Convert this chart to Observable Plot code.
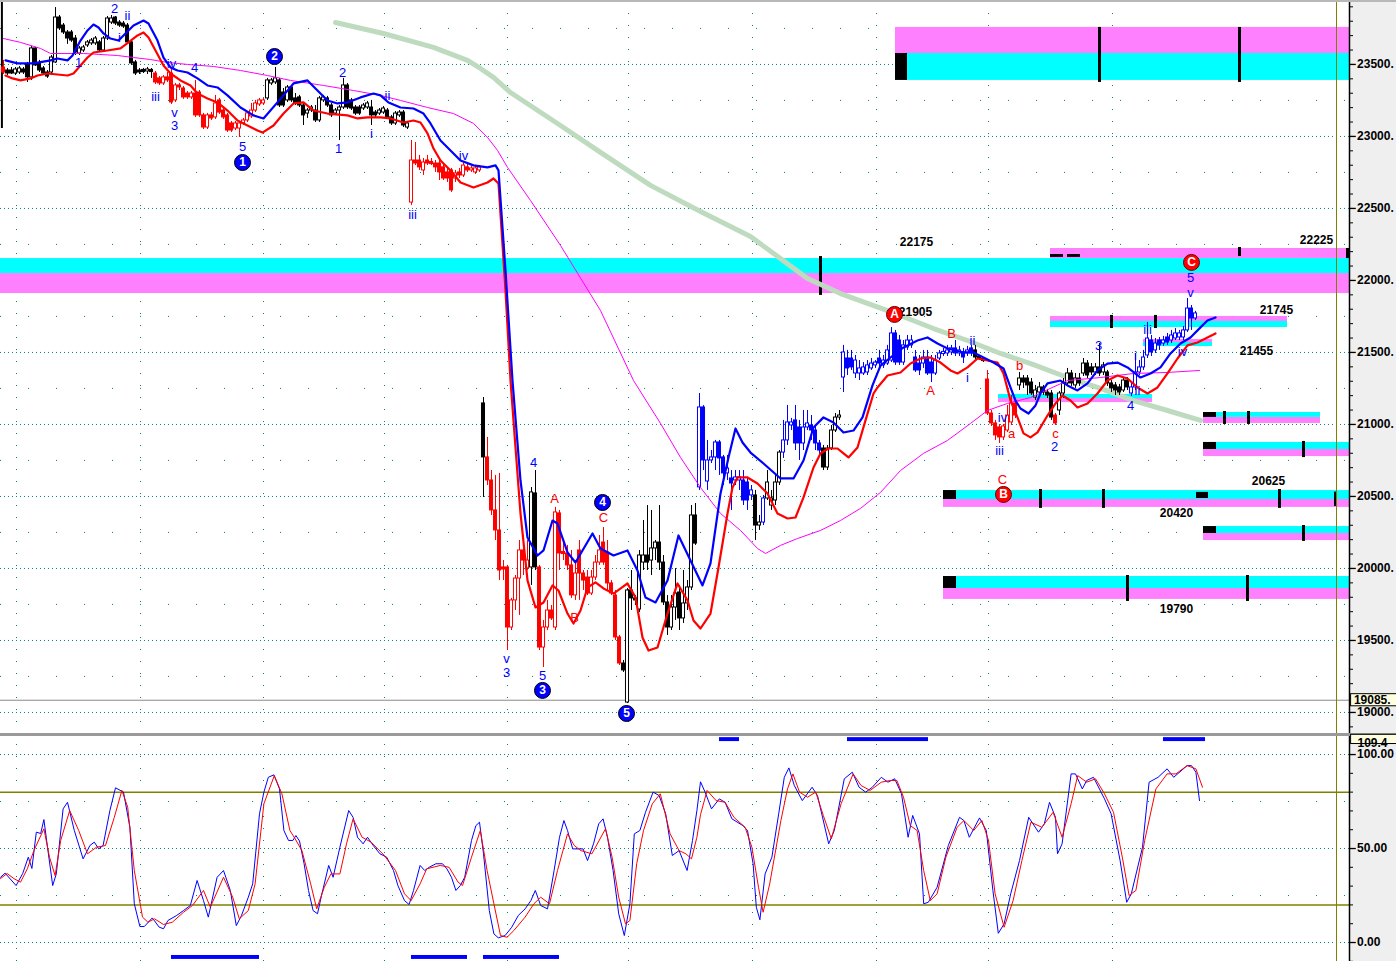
<!DOCTYPE html>
<html><head><meta charset="utf-8">
<script src="https://cdn.jsdelivr.net/npm/d3@7"></script>
<script src="https://cdn.jsdelivr.net/npm/@observablehq/plot@0.6"></script>
<style>
html,body{margin:0;padding:0;background:#fff;}
#wrap{position:relative;width:1396px;height:961px;overflow:hidden;background:linear-gradient(to right,#ffffff 0px,#ffffff 1349px,#efefef 1349px,#efefef 1396px);}
#topPane{position:absolute;left:0;top:0;}
#sep{position:absolute;left:0;top:733px;width:1396px;height:3px;background:#9a9a9a;}
#edge{position:absolute;left:0;top:0;width:1396px;height:2px;background:#b8b8b8;}
#botPane{position:absolute;left:0;top:736px;}
svg{overflow:visible;}
</style></head>
<body><div id="wrap"><div id="topPane"></div><div id="edge"></div><div id="sep"></div><div id="botPane"></div></div>
<script>
// ---------- candle data (bar index = position) ----------
const open = [
23479,23458,23458,23437,23444,23465,23500,23410,23611,23507,
23472,23444,23444,23514,23826,23770,23722,23722,23680,23576,
23597,23632,23646,23646,23653,23597,23680,23791,23826,23791,
23784,23770,23653,23514,23458,23458,23451,23458,23437,23403,
23368,23410,23437,23250,23354,23333,23298,23271,23298,23305,
23146,23062,23146,23132,23250,23180,23146,23090,23055,23055,
23090,23111,23139,23180,23222,23229,23264,23368,23375,23389,
23305,23250,23340,23264,23271,23215,23159,23180,23180,23111,
23250,23264,23215,23159,23180,23201,23354,23250,23201,23201,
23194,23201,23201,23166,23159,23166,23180,23132,23090,23146,
23166,23062,22541,22833,22833,22764,22833,22819,22812,22812,
22785,22750,22764,22708,22750,22729,22785,22764,22750,22764,
21146,20771,20611,20403,20264,20007,20007,19590,19778,19930,
20125,20000,20007,20521,20007,19451,19590,19708,19590,20382,
20111,20104,20021,19813,20125,19965,19937,19826,19937,20041,
20180,20111,19896,19812,19521,19340,19069,19847,19792,19715,
20041,20090,20055,20139,20180,20041,19764,19590,19729,19833,
19653,19757,19868,20368,20563,21118,20604,20750,20771,20875,
20771,20660,20625,20611,20611,20611,20597,20507,20507,20298,
20319,20486,20437,20472,20597,20805,20889,20993,21028,20979,
20868,20979,20993,20958,20868,20833,20701,20833,20958,21048,
21326,21458,21458,21354,21354,21354,21361,21389,21410,21458,
21410,21423,21444,21632,21583,21430,21535,21549,21465,21423,
21423,21465,21430,21354,21458,21493,21493,21500,21528,21493,
21500,21493,21528,21514,21465,21451,21312,21076,21007,20979,
20910,20958,21014,21146,21271,21319,21319,21291,21187,21222,
21257,21222,21215,21062,21097,21215,21285,21354,21271,21319,
21354,21423,21396,21361,21396,21361,21361,21285,21271,21257,
21236,21305,21215,21257,21361,21396,21479,21583,21514,21583,
21562,21604,21583,21597,21604,21604,21653,21805,21736];
const high = [
23528,23472,23479,23479,23486,23479,23514,23625,23618,23528,
23486,23458,23562,23895,23840,23784,23736,23736,23701,23625,
23632,23666,23680,23694,23666,23694,23833,23840,23833,23805,
23798,23784,23666,23528,23472,23472,23479,23472,23451,23416,
23423,23444,23472,23368,23368,23347,23312,23312,23389,23319,
23160,23160,23166,23285,23264,23194,23160,23104,23104,23104,
23125,23173,23229,23250,23264,23264,23403,23403,23479,23403,
23333,23354,23354,23298,23285,23229,23194,23215,23215,23278,
23285,23278,23229,23194,23215,23403,23368,23264,23215,23215,
23229,23243,23250,23180,23194,23208,23194,23146,23173,23180,
23180,23104,22972,22958,22868,22847,22868,22847,22833,22833,
22812,22778,22778,22764,22778,22819,22812,22792,22792,22798,
21187,20910,20680,20646,20660,20055,20021,19792,19951,20194,
20229,20194,20562,20680,20021,19639,19778,19743,20424,20403,
20194,20160,20125,20055,20194,19986,19986,19986,20090,20229,
20284,20194,19916,19847,19535,19361,19861,19986,19812,20125,
20333,20437,20403,20194,20437,20090,19812,19812,19999,19882,
19986,19916,20437,20451,21215,21131,20889,20819,20889,20889,
20785,20785,20680,20680,20680,20680,20625,20576,20542,20368,
20507,20680,20542,20646,20819,21028,21132,21042,21132,21028,
21097,21097,21062,20993,20889,20854,20854,20993,21076,21097,
21549,21514,21514,21479,21444,21430,21444,21458,21444,21514,
21479,21549,21673,21653,21618,21583,21618,21618,21514,21479,
21514,21514,21479,21479,21514,21528,21549,21549,21583,21542,
21528,21542,21549,21549,21479,21465,21375,21097,21028,21000,
21000,21132,21201,21166,21361,21340,21340,21319,21271,21291,
21271,21243,21236,21076,21229,21319,21389,21375,21354,21354,
21458,21444,21423,21423,21562,21430,21375,21305,21291,21278,
21319,21326,21285,21493,21444,21514,21708,21618,21597,21604,
21611,21632,21653,21666,21653,21680,21875,21826,21785];
const low = [
23430,23423,23430,23423,23430,23430,23375,23389,23486,23444,
23423,23403,23423,23507,23736,23708,23639,23653,23562,23562,
23583,23618,23632,23632,23583,23583,23666,23777,23770,23757,
23750,23639,23493,23423,23430,23437,23430,23403,23361,23354,
23354,23375,23222,23236,23319,23257,23257,23257,23132,23132,
23048,23048,23111,23118,23153,23118,23028,23028,23041,22993,
23076,23097,23125,23166,23208,23215,23250,23354,23361,23201,
23201,23236,23236,23215,23201,23076,23125,23166,23097,23097,
23236,23201,23132,23146,22972,23187,23187,23180,23146,23146,
23180,23187,23076,23132,23146,23153,23118,23076,23076,23132,
23062,23048,22521,22798,22764,22729,22798,22798,22750,22694,
22694,22680,22611,22680,22708,22715,22750,22750,22736,22750,
20493,20576,20368,20194,19916,19916,19430,19569,19708,19674,
19951,19986,19882,19986,19430,19312,19569,19639,19569,19986,
20055,19986,19792,19778,19778,19847,19812,19812,19916,20021,
20021,19847,19812,19500,19326,19278,19062,19708,19743,19694,
19986,19986,19951,20055,19986,19743,19535,19569,19639,19569,
19618,19708,19847,20160,20542,20680,20542,20729,20680,20646,
20576,20611,20403,20576,20542,20437,20403,20472,20194,20264,
20298,20472,20403,20437,20576,20764,20854,20958,20819,20750,
20819,20958,20889,20819,20785,20680,20680,20819,20944,21028,
21222,21340,21375,21319,21305,21340,21340,21375,21389,21389,
21389,21410,21430,21410,21410,21410,21514,21528,21361,21340,
21389,21340,21291,21340,21444,21472,21472,21479,21472,21472,
21423,21472,21472,21451,21444,21430,21062,20986,20889,20868,
20889,20944,20993,21041,21236,21250,21201,21201,21166,21201,
21201,21180,21028,20993,21062,21180,21264,21264,21250,21264,
21333,21319,21340,21340,21333,21340,21264,21222,21201,21201,
21222,21236,21194,21236,21340,21375,21458,21472,21493,21514,
21542,21549,21562,21583,21583,21583,21639,21653,21722];
const close = [
23444,23437,23437,23465,23472,23444,23410,23611,23493,23458,
23437,23416,23548,23826,23750,23722,23680,23666,23583,23611,
23618,23653,23666,23680,23597,23680,23819,23819,23784,23770,
23763,23653,23507,23437,23444,23451,23465,23451,23375,23368,
23410,23389,23236,23354,23340,23271,23271,23298,23146,23146,
23062,23146,23125,23229,23166,23132,23041,23041,23090,23090,
23111,23160,23180,23229,23250,23250,23389,23389,23403,23215,
23215,23340,23250,23229,23215,23146,23180,23201,23111,23264,
23271,23215,23146,23180,23201,23354,23201,23194,23159,23159,
23215,23229,23146,23146,23180,23194,23132,23090,23159,23166,
23076,23090,22833,22812,22785,22819,22812,22812,22785,22750,
22708,22708,22625,22743,22729,22798,22764,22778,22778,22785,
20771,20611,20403,20264,19986,19993,19590,19778,19930,20125,
20055,20055,20528,20007,19451,19590,19708,19653,20389,20104,
20104,20021,19813,19965,19965,19916,19826,19937,20041,20125,
20041,19896,19826,19521,19340,19292,19847,19792,19778,20090,
20090,20041,20139,20180,20041,19764,19590,19729,19826,19653,
19757,19868,20368,20173,21118,20750,20750,20771,20875,20764,
20660,20694,20590,20632,20632,20472,20472,20542,20298,20319,
20486,20597,20486,20597,20805,20889,21014,21014,20868,20868,
20979,21007,20958,20868,20819,20701,20833,20958,21048,21062,
21500,21389,21396,21444,21389,21396,21410,21423,21430,21423,
21444,21514,21632,21430,21430,21549,21583,21583,21375,21375,
21465,21354,21354,21444,21493,21500,21514,21528,21493,21514,
21465,21514,21493,21465,21458,21444,21076,21007,20924,20910,
20986,21062,21146,21062,21319,21291,21271,21215,21236,21257,
21222,21201,21048,21007,21215,21285,21354,21285,21319,21285,
21423,21340,21361,21396,21354,21410,21285,21250,21236,21222,
21305,21257,21257,21361,21396,21465,21597,21500,21562,21549,
21583,21569,21618,21632,21632,21653,21805,21736,21771];
// candle colour: k black, r red, b blue
const tone = [..."rkkkkkkkkk" + "kkkkkkkkkk" + "kkkkkkkkkk" + "kkkkkkkkrr" + "rrrrrrrrrr" +
  "rrrrrrrrrr" + "rrrrrrkkkk" + "kkkkkkkkkk" + "kkkkkkkkkk" + "kkkkkkkkkk" +
  "kkrrrrrrrr" + "rrrrrrrrrr" + "krrrrrrrrr" + "rrkkrrrrrr" + "rrrrrrrrrr" +
  "rrrrrkkkkk" + "kkkkkkkkkk" + "kkkkbbbbbb" + "bbbbbbbbkk" + "bkkkkbbbbb" +
  "bbbbbkkkkk" + "bbbbbbbbbb" + "bbbbbbbbbb" + "bbbbbbbbbb" + "bbbkkkrrrr" +
  "rrrrkkkkkk" + "kkkrkkkkkk" + "kkkkkkkkkk" + "kkbbbbbbbb" + "bbbbbbbbb"];

// ---------- overlay lines [bar, price] ----------
const bandUpper = [[0.5,23528],[3.5,23507],[7.5,23507],[11.75,23528],[13.5,23541],[16,23528],[17.25,23562],[19.25,23666],[21,23736],[22.5,23777],[23.75,23757],[25,23715],[26.75,23680],[28.75,23666],[30.5,23715],[32.5,23770],[35,23805],[36.25,23784],[38.5,23666],[40,23548],[41.75,23479],[43.5,23458],[46,23444],[48.5,23403],[51,23354],[53.5,23340],[56,23285],[59.25,23201],[62.5,23146],[65,23125],[70,23285],[72.5,23368],[76,23389],[78.5,23319],[81,23250],[83.5,23229],[86,23236],[89.25,23271],[92.5,23298],[94.25,23285],[96.25,23236],[99.25,23201],[102.5,23194],[105,23159],[106.75,23090],[109.25,22972],[111.75,22903],[114.25,22833],[117.5,22799],[121,22785],[123,22799],[123.75,22764],[125.5,22069],[127.25,21305],[129.25,20611],[131,20215],[133.5,20090],[135,20125],[137.25,20333],[138.5,20312],[141,20111],[143,20041],[144.75,20125],[147.25,20243],[149.25,20139],[152.5,20090],[156,20125],[158.5,19986],[160.5,19798],[163,19764],[166,19916],[168.75,20229],[171.75,20055],[174.75,19882],[176.75,20035],[179.25,20521],[181.25,20771],[183,20972],[184.75,20875],[186.75,20805],[190,20729],[194.25,20625],[197.5,20625],[200,20750],[202.5,20979],[205,21049],[207.5,21014],[210,20944],[212.5,20958],[214.75,21049],[217.25,21271],[219.25,21409],[221.75,21465],[225,21535],[228.5,21583],[231,21604],[233.5,21562],[236,21528],[240,21500],[242.5,21500],[245,21465],[247.5,21430],[250,21389],[251.75,21257],[253,21166],[254.25,21111],[256.25,21076],[258,21132],[259.25,21215],[261,21285],[264.25,21305],[266,21271],[268.5,21236],[271,21285],[273.5,21375],[276,21423],[278.5,21430],[281,21396],[284.25,21326],[286.75,21354],[289.25,21396],[291.75,21493],[294.25,21562],[296.75,21604],[299.25,21674],[301,21722],[303,21743]];
const bandLower = [[0.5,23423],[2.25,23403],[4.25,23389],[6.75,23403],[8.5,23423],[11,23437],[13.5,23430],[16,23423],[17.5,23437],[19.25,23493],[21,23548],[22.5,23583],[26,23597],[29.25,23611],[31.25,23653],[33.5,23701],[35,23722],[36.25,23687],[38,23597],[40,23493],[41.75,23437],[44.25,23389],[46.75,23354],[48.5,23298],[51,23264],[53.5,23236],[56,23180],[58.5,23111],[61,23076],[63.5,23041],[64.75,23027],[67.5,23076],[70,23159],[72.5,23229],[75,23236],[77.5,23180],[81,23159],[86,23146],[88.5,23125],[91,23132],[94.25,23132],[96.75,23125],[100,23097],[102.5,23111],[104.25,23097],[106,23021],[107.5,22916],[109.25,22833],[111.75,22764],[114.25,22680],[117.5,22646],[121,22680],[122.5,22708],[123.75,22673],[125.5,21930],[126.75,21305],[128,20840],[129.25,20382],[131,19917],[133,19729],[135,19764],[137.25,19882],[138.75,19847],[141,19687],[142.5,19618],[144.25,19708],[146,19868],[148,19903],[150,19861],[152.5,19826],[156,19896],[158,19799],[159.75,19521],[161.25,19430],[163.5,19451],[166,19687],[168.5,19896],[171,19778],[172.5,19639],[174.25,19583],[176.75,19687],[178.75,20007],[181,20382],[182.25,20562],[183.5,20632],[186,20632],[188.5,20590],[191,20521],[193.5,20382],[196,20347],[198,20354],[200,20493],[202.5,20701],[204.25,20799],[206.25,20833],[208.5,20833],[210,20799],[211.25,20771],[213.5,20840],[215.5,21028],[217.5,21215],[218.5,21257],[221,21340],[224.25,21361],[226.75,21423],[229.25,21458],[231.75,21465],[234.25,21430],[236.75,21375],[238.5,21354],[241,21396],[243.5,21458],[246,21444],[248.5,21430],[250,21354],[251.75,21166],[253.5,21049],[255,20938],[256.75,20910],[258.5,20945],[261,21062],[263,21146],[264.75,21201],[266.75,21166],[268.5,21118],[271,21146],[273.5,21215],[276,21305],[278.5,21340],[281,21319],[283.5,21257],[286,21215],[288.5,21257],[291,21354],[293.5,21458],[296,21549],[298.5,21569],[301,21604],[303,21632]];
const maMagenta = [[0,23680],[4.25,23653],[9.25,23611],[11.75,23576],[20,23576],[28.5,23562],[32.5,23548],[36.75,23534],[41,23514],[46,23500],[52.5,23486],[59.25,23458],[66,23423],[71.75,23389],[80,23354],[87.5,23319],[94.25,23285],[99.25,23250],[106,23201],[112.5,23159],[117.5,23090],[121,22993],[123.5,22903],[126,22785],[131.75,22555],[139.25,22243],[149.25,21791],[157.5,21305],[164.25,21007],[169.25,20771],[174.25,20562],[179.25,20382],[184.25,20264],[188.5,20139],[190.5,20104],[194.25,20160],[198.5,20208],[204.25,20264],[209.25,20333],[214.25,20417],[219.25,20528],[224.25,20680],[230,20799],[236,20889],[241.75,21007],[246,21097],[251,21146],[256.75,21187],[266,21305],[274.25,21326],[282.5,21354],[291,21361],[299,21375]];
const maGreen = [[83,23791],[95,23715],[107.5,23618],[116,23528],[119.25,23472],[122.5,23410],[126.75,23305],[139.25,23076],[149.25,22889],[161.75,22660],[174.25,22479],[186.75,22305],[201,22014],[209.25,21909],[221,21791],[232.5,21666],[241,21583],[249.25,21493],[257.5,21416],[266,21326],[274.25,21250],[282.5,21166],[291,21097],[299.25,21028]];

// ---------- target zones [x1, x2, low, high] ----------
const zoneCyan = [[223,336.5,23389,23576],[-0.75,336.5,22048,22152],[261.75,321,21673,21715],[285,302.25,21541,21569],[248.75,287.25,21180,21208],[300,329.25,21049,21083],[300,336.5,20826,20875],[235,336.5,20479,20541],[300,336.5,20243,20291],[235,336.5,19861,19944]];
const zonePink = [[223,336.5,23576,23757],[-0.75,336.5,21909,22048],[261.75,336.5,22152,22222],[261.75,321,21715,21750],[285,302.25,21569,21590],[248.75,287.25,21152,21180],[300,329.25,21007,21049],[300,336.5,20777,20826],[235,336.5,20424,20479],[300,336.5,20194,20243],[235,336.5,19785,19861]];
const zoneBlack = [[223,226,23389,23576],[261.75,265,22160,22180],[266,269.25,22160,22180],[300,303.25,21049,21083],[300,303.25,20826,20875],[235,238.25,20479,20541],[298.25,301.25,20486,20528],[300,303.25,20243,20291],[235,238.25,19861,19944],[335.75,336.5,22152,22222]];
const zoneTicks = [[274,23375,23757],[309,23375,23757],[204.25,21896,22166],[309,22166,22229],[277,21666,21757],[288,21666,21757],[305.25,21000,21090],[311.25,21000,21090],[325,20770,20882],[259.25,20417,20548],[275,20417,20548],[319,20417,20548],[333,20430,20530],[325,20188,20298],[281,19771,19951],[311,19771,19951]];
const levelLabels = [[228.25,22263,"22175"],[228,21777,"21905"],[328.25,22277,"22225"],[318.25,21791,"21745"],[313.25,21507,"21455"],[316.25,20604,"20625"],[293.25,20382,"20420"],[293.25,19715,"19790"]];

// ---------- wave labels [bar, price, text] ----------
const waveBlue = [[18.75,23514,"1"],[27.75,23888,"2"],[31,23840,"ii"],[29,23687,"i"],[42,23507,"iv"],[47.75,23479,"4"],[38,23277,"iii"],[42.75,23166,"v"],[42.75,23076,"3"],[59.75,22930,"5"],[84.75,23444,"2"],[96,23284,"ii"],[83.75,22916,"1"],[92,23020,"i"],[102.25,22458,"iii"],[115,22868,"iv"],[132.5,20736,"4"],[125.75,19375,"v"],[125.75,19277,"3"],[134.75,19257,"5"],[242.25,21583,"ii"],[241,21326,"i"],[249.75,21048,"iv"],[249,20819,"iii"],[262.75,20847,"2"],[273.75,21548,"3"],[286,21659,"iii"],[283,21479,"i"],[294.75,21507,"iv"],[283.5,21236,"ii"],[281.75,21132,"4"],[296.75,22021,"5"],[296.75,21916,"v"]];
const waveRed = [[137.75,20486,"A"],[150,20354,"C"],[142.75,19660,"B"],[237,21632,"B"],[231.75,21236,"A"],[254,21409,"b"],[252,20937,"a"],[263,20937,"c"],[249.75,20618,"C"]];
const circleBlue = [[59.75,22819,"1"],[67.75,23555,"2"],[134.75,19153,"3"],[149.75,20458,"4"],[155.75,18993,"5"]];
const circleRed = [[222.75,21764,"A"],[250,20514,"B"],[297,22125,"C"]];

// ---------- grid / axis ----------
const priceTicks = [19000,19500,20000,20500,21000,21500,22000,22500,23000,23500];
const priceHalf = [19250,19750,20250,20750,21250,21750,22250,22750,23250,23750];
const timeGrid = [3.25,34.25,65,95.25,126,156.25,187.25,218.25,246.25,277.25];
const lastMark = 19085;
const cursorBar = 333.25;

// ---------- stochastic [bar, value] ----------
const stochK = [[-0.75,34.7],[0.4,36.9],[3.15,30.3],[4.8,36.7],[6.2,45.4],[7.1,39.4],[8.2,58.7],[9.3,58],[10.1,65.4],[11,50.7],[12.3,30.3],[13.2,36.5],[14.9,71.1],[16,74.6],[17.7,59.6],[19.9,44.5],[21.6,51.6],[22.7,53.4],[23.8,49.8],[24.9,51.6],[26.6,70.2],[28,82.3],[30,80],[31.6,61.3],[32.7,20.6],[34.1,8.5],[35.2,8.5],[37.2,13.1],[38.9,8.2],[40,7.3],[41.1,11.7],[43.3,14.4],[45,17],[46.7,19.7],[48.4,33],[50,22.3],[51.2,13.5],[53.4,34.7],[55,38.3],[56.7,27.7],[58.2,9],[59.5,14.4],[61.2,24.1],[62.3,31.2],[64,68.5],[65.1,80],[66.2,87.9],[67.6,89.2],[69,81.7],[70.1,59.6],[71.25,54.3],[72.35,54.3],[73.1,56.9],[74,54],[75.15,41.9],[76.25,27.7],[77.4,17],[78.5,15.3],[79.6,25.9],[81.3,41],[82.4,34.7],[84.1,50.7],[86.3,70.2],[87.4,66.6],[88.5,56],[89.9,52.5],[91,56],[92.45,51.6],[94.1,47.2],[95.8,45.4],[97.5,38.3],[98.6,30.3],[100.25,22.3],[101.4,20.2],[102.5,27.7],[104.15,41],[105.3,38.3],[106.4,40],[108.1,41.9],[109.75,41.9],[110.85,39.2],[112,34.7],[113.1,27.7],[114.2,30.3],[115.3,34.7],[117,54.3],[118.1,62.2],[119,64],[120,47.2],[121.45,17],[122.6,4.6],[123.7,2.5],[125.4,3.7],[127.05,8.1],[128.7,14.4],[130.4,17.9],[131.85,22.3],[132.95,27.7],[134.3,19.7],[136,17.9],[137.65,38.3],[139,56],[140.1,64.9],[141,59.6],[142.3,49.8],[143.8,49.8],[144.9,49.8],[146,43.6],[147.5,52.5],[148.8,63.1],[149.9,65.8],[151,56],[152.4,38.3],[153.8,15.3],[155.2,3.7],[156.6,20.6],[157.7,57.8],[159.1,59.6],[160.5,69.3],[162.4,80],[163.9,78.2],[165.55,68.5],[167.2,46.3],[168.9,48.9],[170.9,38.3],[172.25,54.3],[173.35,70.2],[174.25,85.5],[175.4,80],[177,71.1],[178.95,76.4],[180.4,74.6],[182.1,65.8],[184.85,62.2],[186,59.6],[187.4,41.9],[188.2,18.8],[189.1,12.1],[190.4,36.5],[192.1,45.4],[193.8,68.5],[195.2,87.9],[196.35,92.9],[197.7,83.5],[199.7,75.5],[202.15,82.6],[203.5,78.2],[206.3,52.5],[207.7,59.6],[210.2,87.1],[212.2,90.6],[213.9,82.6],[215.55,80],[217.2,82.6],[219.45,87.9],[221.1,85.3],[222.8,87.1],[224.5,79.1],[226.15,56],[227.3,67.6],[229,57.8],[230.05,20.6],[231.2,21.4],[233.4,29.4],[236.2,51.6],[239,66.6],[240.1,64.9],[241.45,56],[244,66.3],[245.7,59.6],[247.35,27.7],[248.7,4.9],[250.15,9.9],[251.8,25.9],[254,43.6],[256.3,66.6],[258.75,58.7],[260.2,63.1],[261.5,74.6],[263,66.6],[263.5,47.2],[264.65,52.5],[266.9,89.7],[268,89.7],[269.7,81.7],[270.8,86.2],[272.5,87.9],[275.25,76.4],[276.9,68.5],[279.15,43.6],[280.8,21.4],[281.95,25.9],[284.75,50.7],[286.4,85.3],[288.65,87.9],[290.9,92.4],[292.55,87.9],[295.9,94.1],[297,94.1],[298.1,90.6],[299,75.5]];
const stochD = [[-0.75,34],[0.9,36.7],[2.6,34],[4.25,32.1],[5.95,39.2],[7.6,48.9],[10.1,60.5],[11.5,45.4],[12.9,35.6],[14.3,54.3],[16.55,70.2],[18.8,59.6],[21,47.2],[23.25,50.7],[25.5,51.6],[27.7,66.6],[29.6,80.9],[31.05,72],[32.7,38.3],[34.75,13.5],[36.1,10.8],[37.75,12.6],[40,9.6],[42.2,10.8],[45,16.1],[47.25,19.7],[50,27.7],[51.7,18.8],[55,34.7],[57.3,24.1],[58.95,12.6],[61.2,17],[62.9,31.2],[65.1,73.8],[67.7,88.8],[69.6,79.1],[71.6,59.6],[72.9,55.2],[74.6,48.9],[76.8,31.2],[78.3,17.9],[80.2,29.4],[81.85,36.5],[84.1,36.5],[85.75,52.5],[87.4,65.8],[89.65,56],[91.9,53.4],[95.2,46.3],[98,38.3],[100.25,25.9],[101.9,22.3],[104.15,31.2],[105.8,39.2],[109.2,41],[111.4,40],[113.65,32.1],[114.75,30.3],[117,45.4],[119.2,59.6],[120.9,38.3],[122.6,20.6],[124.25,3.7],[125.9,2.8],[127.6,6.4],[130.4,13.5],[132.6,20.6],[134.3,24.1],[136.5,20.6],[138.5,38.3],[141,57.8],[142.7,51.6],[144.35,48.9],[147.1,47.2],[150.5,60.5],[152.15,45.4],[153.8,24.1],[155.5,9.9],[156.6,11.7],[158.3,41.9],[160,59.6],[162.2,73.8],[164.2,79.1],[166.65,57.8],[168.9,48.9],[170.6,47.2],[172,44.5],[173.35,56],[174.25,68],[175.9,80.9],[178.15,75.5],[180.4,74.6],[182.6,66.6],[185.4,61.3],[187.1,50.7],[188.75,29.4],[189.9,16.1],[191.55,31.2],[194.35,64.9],[196,81.7],[197.35,89.7],[199,80],[201,77.3],[203.05,80],[204.95,67.6],[206.95,55.2],[209.4,73.8],[212.4,89.7],[214.4,83.5],[216.65,80.9],[219.45,85.3],[221.7,86.2],[223.35,86.2],[225,77.3],[226.7,62.2],[228.4,59.6],[230.05,38.3],[231.7,22.3],[233.4,25.9],[235.6,45.4],[238.4,61.3],[240.1,64.9],[242.55,59.6],[244.6,64.9],[246.25,54.3],[247.9,25.9],[250.15,8.1],[252.4,22.3],[254.6,43.6],[256.85,64],[259.6,61.3],[262.4,69.3],[264.65,56],[266.9,73.8],[268.55,88.8],[270.8,85.3],[273,87.1],[275.25,79.1],[277.5,69.3],[279.7,45.4],[281.4,25],[283.1,27.7],[285.3,54.3],[288.1,81.7],[290.9,89.7],[293.1,89.7],[295.9,94.1],[298.1,92.4],[299.75,82.6]];
const signalLow = [[42,64],[102,116],[120,139]];
const signalHigh = [[179,184],[211,231.25],[290,300.5]];
const stochTicks = [0,50,100];
const stochLevels = [20,80];

// ---------- build ----------
const toneColor = {k:"#000000", r:"#ff0000", b:"#0000ff"};
const bars = open.map((o,i)=>({i, o, h:high[i], l:low[i], c:close[i], t:tone[i]}));
const FONT = "'Liberation Sans', Arial, sans-serif";
const X = {domain:[-0.75,336.5], axis:null};
const AXIS_END = 336.5;
const labelX = 338.4;

const priceChart = Plot.plot({
  width:1396, height:734, marginLeft:0, marginRight:47, marginTop:0, marginBottom:0,
  x:X, y:{domain:[18847,23944], axis:null},
  style:{background:"transparent", fontFamily:FONT, overflow:"visible"},
  marks:[
    Plot.ruleY(priceTicks, {x1:-0.75, x2:AXIS_END, stroke:"#008080", strokeDasharray:"1,3"}),
    Plot.ruleY(priceHalf, {x1:-0.75, x2:AXIS_END, stroke:"#008080", strokeDasharray:"1,27"}),
    Plot.ruleX(timeGrid, {y1:18847, y2:23944, stroke:"#008080", strokeDasharray:"1,11"}),
    Plot.rect(zonePink, {x1:d=>d[0], x2:d=>d[1], y1:d=>d[2], y2:d=>d[3], fill:"#ff80ff"}),
    Plot.rect(zoneCyan, {x1:d=>d[0], x2:d=>d[1], y1:d=>d[2], y2:d=>d[3], fill:"#00ffff"}),
    Plot.rect(zoneBlack, {x1:d=>d[0], x2:d=>d[1], y1:d=>d[2], y2:d=>d[3], fill:"#000000"}),
    Plot.ruleX(zoneTicks, {x:d=>d[0], y1:d=>d[1], y2:d=>d[2], stroke:"#000000", strokeWidth:3}),
    Plot.ruleY([lastMark], {x1:-0.75, x2:AXIS_END, stroke:"#8a8a8a", strokeWidth:1}),
    Plot.ruleX([cursorBar], {y1:18847, y2:23944, stroke:"#808000", strokeWidth:1}),
    Plot.ruleX([-0.4], {y1:23055, y2:23944, stroke:"#000000", strokeWidth:2}),
    Plot.line(maGreen, {x:d=>d[0], y:d=>d[1], stroke:"#bfdbbf", strokeWidth:5, strokeLinecap:"round"}),
    Plot.ruleX(bars, {x:"i", y1:"l", y2:"h", stroke:d=>toneColor[d.t], strokeWidth:1}),
    Plot.rect(bars, {
      x1:d=>d.i-0.38, x2:d=>d.i+0.38,
      y1:d=>Math.max(d.o,d.c) + (Math.abs(d.o-d.c)<8?4:0),
      y2:d=>Math.min(d.o,d.c) - (Math.abs(d.o-d.c)<8?4:0),
      fill:d=>d.c>d.o ? "#ffffff" : toneColor[d.t], stroke:d=>toneColor[d.t], strokeWidth:1}),
    Plot.line(maMagenta, {x:d=>d[0], y:d=>d[1], stroke:"#ff00ff", strokeWidth:1}),
    Plot.line(bandLower, {x:d=>d[0], y:d=>d[1], stroke:"#ff0000", strokeWidth:2.2}),
    Plot.line(bandUpper, {x:d=>d[0], y:d=>d[1], stroke:"#0000ff", strokeWidth:2.2}),
    Plot.text(levelLabels, {x:d=>d[0], y:d=>d[1], text:d=>d[2], fill:"#000", fontSize:12, fontWeight:"bold"}),
    Plot.text(waveBlue, {x:d=>d[0], y:d=>d[1], text:d=>d[2], fill:"#0000ff", fontSize:13}),
    Plot.text(waveRed, {x:d=>d[0], y:d=>d[1], text:d=>d[2], fill:"#ff0000", fontSize:13}),
    Plot.dot(circleBlue, {x:d=>d[0], y:d=>d[1], r:8, fill:"#0000ff", stroke:"#000", strokeWidth:1}),
    Plot.text(circleBlue, {x:d=>d[0], y:d=>d[1], text:d=>d[2], fill:"#fff", fontSize:12, fontWeight:"bold"}),
    Plot.dot(circleRed, {x:d=>d[0], y:d=>d[1], r:8, fill:"#ff0000", stroke:"#600", strokeWidth:1}),
    Plot.text(circleRed, {x:d=>d[0], y:d=>d[1], text:d=>d[2], fill:"#fff", fontSize:12, fontWeight:"bold"}),
    Plot.ruleX([AXIS_END], {y1:18847, y2:23944, stroke:"#000", strokeWidth:1.5}),
    Plot.ruleY(d3.range(18900, 23901, 100), {x1:AXIS_END, x2:337.5, stroke:"#000"}),
    Plot.ruleY(priceTicks, {x1:AXIS_END, x2:338.2, stroke:"#000", strokeWidth:1.3}),
    Plot.text(priceTicks, {x:labelX, y:d=>d, text:d=>d+".", textAnchor:"start", fill:"#000", fontSize:12, fontWeight:"bold"}),
    Plot.rect([[336.9,349,19043,19127]], {x1:d=>d[0], x2:d=>d[1], y1:d=>d[2], y2:d=>d[3], fill:"#ffffe0", stroke:"#000"}),
    Plot.text([lastMark], {x:337.6, y:d=>d, text:d=>d+".", textAnchor:"start", fill:"#000", fontSize:12, fontWeight:"bold"})
  ]
});
document.getElementById("topPane").appendChild(priceChart);

const stochChart = Plot.plot({
  width:1396, height:225, marginLeft:0, marginRight:47, marginTop:0, marginBottom:0,
  x:X, y:{domain:[-10.1,109.6], axis:null},
  style:{background:"transparent", fontFamily:FONT, overflow:"visible"},
  marks:[
    Plot.ruleY(stochTicks, {x1:-0.75, x2:AXIS_END, stroke:"#008080", strokeDasharray:"1,3"}),
    Plot.ruleY([25,75], {x1:-0.75, x2:AXIS_END, stroke:"#008080", strokeDasharray:"1,27"}),
    Plot.ruleX(timeGrid, {y1:-10.1, y2:109.6, stroke:"#008080", strokeDasharray:"1,11"}),
    Plot.ruleY(stochLevels, {x1:-0.75, x2:AXIS_END, stroke:"#808000", strokeWidth:1.5}),
    Plot.ruleX([cursorBar], {y1:-10.1, y2:109.6, stroke:"#808000", strokeWidth:1}),
    Plot.rect(signalLow, {x1:d=>d[0], x2:d=>d[1], y1:-9.0, y2:-6.9, fill:"#0000ff"}),
    Plot.rect(signalHigh, {x1:d=>d[0], x2:d=>d[1], y1:106.9, y2:109.0, fill:"#0000ff"}),
    Plot.line(stochK, {x:d=>d[0], y:d=>d[1], stroke:"#0000ff", strokeWidth:1}),
    Plot.line(stochD, {x:d=>d[0], y:d=>d[1], stroke:"#ff0000", strokeWidth:1}),
    Plot.ruleX([AXIS_END], {y1:-10.1, y2:109.6, stroke:"#000", strokeWidth:1.5}),
    Plot.ruleY(d3.range(-10, 110, 10), {x1:AXIS_END, x2:337.5, stroke:"#000"}),
    Plot.ruleY(stochTicks, {x1:AXIS_END, x2:338.2, stroke:"#000", strokeWidth:1.3}),
    Plot.text(stochTicks, {x:labelX, y:d=>d, text:d=>d.toFixed(2), textAnchor:"start", fill:"#000", fontSize:12, fontWeight:"bold"}),
    Plot.rect([[336.9,349,105.6,110.5]], {x1:d=>d[0], x2:d=>d[1], y1:d=>d[2], y2:d=>d[3], fill:"#ffffe0", stroke:"#000"}),
    Plot.text(["109.4"], {x:338.5, y:106.2, text:d=>d, textAnchor:"start", fill:"#000", fontSize:12, fontWeight:"bold"})
  ]
});
document.getElementById("botPane").appendChild(stochChart);
</script>
</body></html>
